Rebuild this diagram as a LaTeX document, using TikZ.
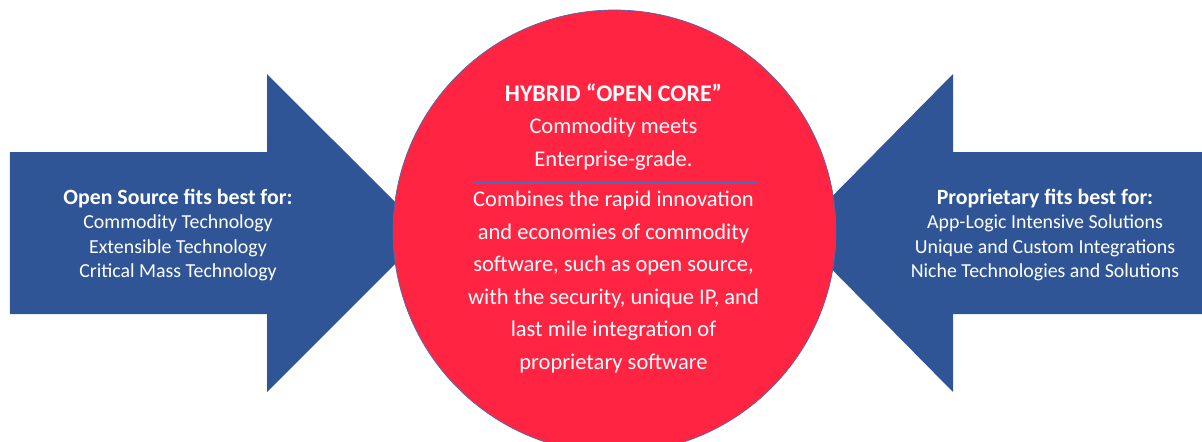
\documentclass[tikz,border=0pt]{standalone}
\usepackage{fontspec}
\setmainfont{Carlito}
\usetikzlibrary{positioning}
\definecolor{ocBlue}{HTML}{2F5597}
\definecolor{ocRed}{HTML}{FF2442}
\definecolor{ocEdge}{HTML}{4F6AA8}
\definecolor{ocRule}{HTML}{4B6CC1}
\tikzset{
  bigArrow/.style={fill=ocBlue, draw=none},
  coreDisc/.style={circle, fill=ocRed, draw=ocEdge, inner sep=0pt, minimum size=8.86cm},
  sideText/.style={text=white, align=center, font=\fontsize{11.3}{13.8}\selectfont},
  coreText/.style={text=white, align=center, font=\fontsize{12.8}{18.5}\selectfont},
}
\begin{document}
\begin{tikzpicture}
        \useasboundingbox (0,0) rectangle (24.04,8.82);
        % Flechas laterales
        \fill[bigArrow] (0.2,2.54) -- (5.34,2.54) -- (5.34,0.98) -- (8.52,4.16)
          -- (5.34,7.34) -- (5.34,5.78) -- (0.2,5.78) -- cycle;
        \fill[bigArrow] (24.04,2.54) -- (19.06,2.54) -- (19.06,0.98) -- (15.92,4.16)
          -- (19.06,7.34) -- (19.06,5.78) -- (24.04,5.78) -- cycle;
        % Circulo central
        \node[coreDisc] (core) at (12.29,4.19) {};
        \node[coreText] (hybrid) at (12.27,6.28)
          {{\bfseries\fontsize{13.6}{18.5}\selectfont HYBRID “OPEN CORE”}\\Commodity meets\\Enterprise-grade.};
        \draw[ocRule, line width=1pt] (9.46,5.16) -- (15.14,5.16);
        \node[coreText] (combine) at (12.27,3.18)
          {Combines the rapid innovation\\and economies of commodity\\software, such as open source,\\with the security, unique IP, and\\last mile integration of\\proprietary software};
        % Textos de las flechas
        \node[sideText] (openSrc) at (3.56,4.12)
          {{\bfseries\fontsize{12.4}{13.8}\selectfont Open Source fits best for:}\\Commodity Technology\\Extensible Technology\\Critical Mass Technology};
        \node[sideText] (propr) at (20.9,4.12)
          {{\bfseries\fontsize{12.4}{13.8}\selectfont Proprietary fits best for:}\\App-Logic Intensive Solutions\\Unique and Custom Integrations\\Niche Technologies and Solutions};
      \end{tikzpicture}
\end{document}
